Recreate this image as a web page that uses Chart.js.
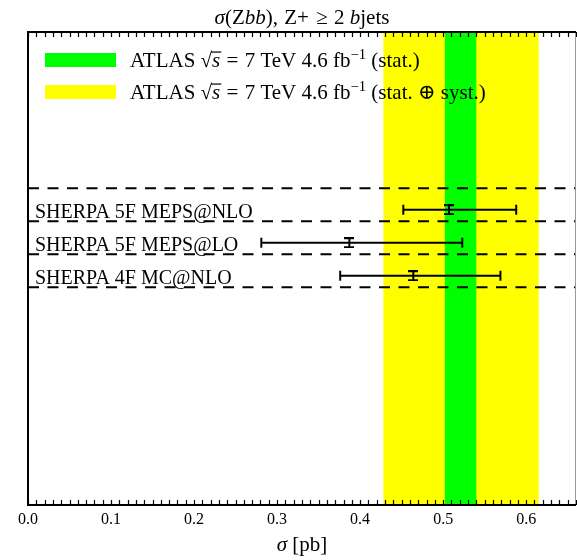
<!DOCTYPE html>
<html><head><meta charset="utf-8">
<script src="https://cdn.jsdelivr.net/npm/chart.js@4/dist/chart.umd.min.js"></script>
<style>html,body{margin:0;padding:0;background:#fff}</style>
</head><body>
<div style="width:577px;height:560px"><canvas id="c" width="577" height="560"></canvas></div>
<script>
// ---- data ----
const rowLabels = ['SHERPA 5F MEPS@NLO', 'SHERPA 5F MEPS@LO', 'SHERPA 4F MC@NLO'];
const centralValues = [0.507, 0.387, 0.464];
const lowerValues = [0.452, 0.281, 0.376];
const upperValues = [0.588, 0.523, 0.569];
const atlasStatBand = [0.502, 0.540];
const atlasTotalBand = [0.428, 0.615];
const xTickValues = [0.0, 0.1, 0.2, 0.3, 0.4, 0.5, 0.6];
const xMinorStep = 0.01;
const xRange = [0, 0.66];
const legendSuffixes = ['(stat.)', '(stat. \u2295 syst.)'];

const SERIF = '"Liberation Serif", "DejaVu Serif", serif';
const GREEN = '#00ff00', YELLOW = '#ffff00';

// I-shaped marker for central value
const iMark = document.createElement('canvas');
iMark.width = 10; iMark.height = 11;
(function(){ const g = iMark.getContext('2d'); g.strokeStyle = '#000'; g.lineWidth = 2;
  g.beginPath(); g.moveTo(0,1); g.lineTo(10,1); g.moveTo(0,10); g.lineTo(10,10); g.moveTo(5,1); g.lineTo(5,10); g.stroke(); })();

const datasets = [];
for (let k = 0; k <= rowLabels.length; k++) {
  const yb = k - 0.65;
  datasets.push({ data: [{x: xRange[0], y: yb}, {x: xRange[1], y: yb}], showLine: true,
    borderColor: '#000', borderWidth: 2, borderDash: [11, 8.5], pointRadius: 0 });
}
rowLabels.forEach((l, i) => datasets.push({ label: l, showLine: true,
  data: [{x: lowerValues[i], y: i}, {x: upperValues[i], y: i}],
  borderColor: '#000', borderWidth: 2, pointStyle: 'line', rotation: 90, pointRadius: 5,
  pointBorderWidth: 2, pointBorderColor: '#000', pointBackgroundColor: '#000' }));
datasets.push({ label: 'central', data: centralValues.map((v, i) => ({x: v, y: i})),
  pointStyle: iMark, pointRadius: 5 });

function segFont(s, size) {
  const fs = s.sup ? size * 0.7 : size;
  return (s.it ? 'italic ' : '') + fs + 'px ' + SERIF;
}
function drawRich(ctx, x, y, segs, size) {
  let cx = x;
  segs.forEach(s => {
    if (s.gap) { cx += s.gap; return; }
    ctx.font = segFont(s, size);
    const yy = s.sup ? y - size * 0.38 : y;
    ctx.fillText(s.t, cx, yy);
    const w = ctx.measureText(s.t).width;
    if (s.over) { ctx.fillRect(cx - 1, y - size * 0.74, w + 2, 1.2); }
    cx += w;
  });
  return cx - x;
}
function richWidth(ctx, segs, size) {
  let w = 0;
  segs.forEach(s => { if (s.gap) { w += s.gap; return; } ctx.font = segFont(s, size); w += ctx.measureText(s.t).width; });
  return w;
}

const decor = {
  id: 'decor',
  beforeDatasetsDraw(chart) {
    const {ctx, chartArea: a, scales: {x}} = chart;
    ctx.save();
    ctx.fillStyle = YELLOW;
    ctx.fillRect(x.getPixelForValue(atlasTotalBand[0]), a.top, x.getPixelForValue(atlasTotalBand[1]) - x.getPixelForValue(atlasTotalBand[0]), a.bottom - a.top);
    ctx.fillStyle = GREEN;
    ctx.fillRect(x.getPixelForValue(atlasStatBand[0]), a.top, x.getPixelForValue(atlasStatBand[1]) - x.getPixelForValue(atlasStatBand[0]), a.bottom - a.top);
    ctx.restore();
  },
  afterDatasetsDraw(chart) {
    const {ctx, chartArea: a, scales: {x, y}} = chart;
    ctx.save();
    // row labels
    ctx.fillStyle = '#000';
    ctx.font = '20px ' + SERIF;
    ctx.textBaseline = 'alphabetic';
    ctx.textAlign = 'left';
    rowLabels.forEach((l, i) => ctx.fillText(l, a.left + 7, y.getPixelForValue(i + 0.35) - 3));
    // minor ticks top & bottom
    ctx.strokeStyle = '#000'; ctx.lineWidth = 1.2;
    ctx.beginPath();
    for (let v = xRange[0]; v <= xRange[1] + 1e-9; v += xMinorStep) {
      const px = Math.round(x.getPixelForValue(v)) + 0.5;
      ctx.moveTo(px, a.bottom); ctx.lineTo(px, a.bottom - 5);
      ctx.moveTo(px, a.top); ctx.lineTo(px, a.top + 5);
    }
    ctx.stroke();
    // frame
    ctx.strokeStyle = '#999'; ctx.lineWidth = 1;
    ctx.beginPath(); ctx.moveTo(a.right - 0.5, a.top); ctx.lineTo(a.right - 0.5, a.bottom); ctx.stroke();
    ctx.strokeStyle = '#000'; ctx.lineWidth = 2;
    ctx.beginPath();
    ctx.moveTo(a.right, a.top); ctx.lineTo(a.left, a.top); ctx.lineTo(a.left, a.bottom); ctx.lineTo(a.right, a.bottom);
    ctx.stroke();
    // legend
    const size = 21;
    const boxes = [GREEN, YELLOW];
    boxes.forEach((c, k) => {
      const top = a.top + 21 + k * 32;
      ctx.fillStyle = c;
      ctx.fillRect(a.left + 17, top, 71, 14);
      ctx.fillStyle = '#000';
      drawRich(ctx, a.left + 102, top + 14, [
        {t: 'ATLAS '}, {t: '\u221A'}, {t: 's', it: true, over: true}, {gap: 1}, {t: ' = '}, {gap: 1}, {t: '7 TeV 4.6 fb'},
        {t: '\u22121', sup: true}, {t: ' ' + legendSuffixes[k]}], size);
    });
    // title
    const tsegs = [{t: '\u03C3', it: true}, {t: '(Z'}, {t: 'bb', it: true}, {t: '), '}, {gap: 1}, {t: 'Z+'}, {gap: 2}, {t: ' \u2265 '}, {gap: 1}, {t: '2 '}, {t: 'b', it: true}, {t: 'jets'}];
    const tw = richWidth(ctx, tsegs, 21);
    ctx.textBaseline = 'alphabetic';
    drawRich(ctx, (a.left + a.right) / 2 - tw / 2, 24, tsegs, 21);
    // x-axis title
    const asegs = [{t: '\u03C3', it: true}, {t: ' [pb]'}];
    const aw = richWidth(ctx, asegs, 21);
    drawRich(ctx, (a.left + a.right) / 2 - aw / 2, 551, asegs, 21);
    ctx.restore();
  }
};

new Chart(document.getElementById('c'), {
  type: 'scatter',
  data: { datasets },
  options: {
    responsive: false, animation: false, devicePixelRatio: 1,
    layout: { autoPadding: false, padding: { top: 32, left: 28, right: 1, bottom: 0 } },
    plugins: { legend: { display: false }, tooltip: { enabled: false } },
    scales: {
      x: {
        type: 'linear', min: xRange[0], max: xRange[1],
        grid: { display: false, drawTicks: false }, border: { display: false },
        afterBuildTicks: s => { s.ticks = xTickValues.map(v => ({ value: v })); },
        afterFit: s => { s.height = 55; },
        ticks: { color: '#000', padding: 5, font: { family: SERIF, size: 16 }, callback: v => Number(v).toFixed(1), maxRotation: 0, autoSkip: false },
        title: { display: false }
      },
      y: { type: 'linear', reverse: true, min: -5.385, max: 8.948, display: false }
    }
  },
  plugins: [decor]
});
</script>
</body></html>
